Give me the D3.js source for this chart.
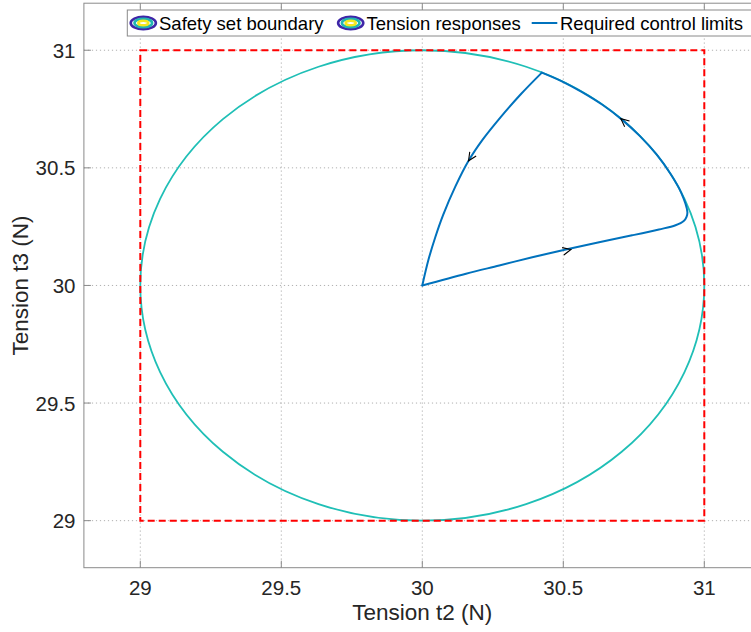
<!DOCTYPE html>
<html>
<head>
<meta charset="utf-8">
<script src="https://cdn.jsdelivr.net/npm/d3@7"></script>
<style>
  html, body { margin: 0; padding: 0; background: #fff; overflow: hidden; }
  svg { display: block; font-family: "Liberation Sans", Arial, Helvetica, sans-serif; }
</style>
</head>
<body>
<svg id="chart" width="751" height="632"></svg>
<script>
// Axis limits and ticks (N)
const t2Limits = [28.8, 31.2];
const t3Limits = [28.8, 31.2];
const t2Ticks = [29, 29.5, 30, 30.5, 31];
const t3Ticks = [29, 29.5, 30, 30.5, 31];
const tickLabels = ["29", "29.5", "30", "30.5", "31"];

// Safety set boundary: ellipse centre and semi-axes (t2, t3)
const safetyCenter = [30, 30];
const safetyRadii = [1, 1];

// Required control limits box: [t2min, t2max], [t3min, t3max]
const limitT2 = [29, 31];
const limitT3 = [29, 31];

// Tension response trajectory (outbound leg, along the boundary, then back to the set point)
const respT2 = [30.000, 30.155, 30.273, 30.390, 30.509, 30.627, 30.744, 30.839, 30.898, 30.927, 30.937, 30.940,
                30.918, 30.880, 30.830, 30.770, 30.709, 30.640, 30.565, 30.495, 30.424,
                30.350, 30.278, 30.214, 30.164, 30.117, 30.074, 30.046, 30.022, 30.000];
const respT3 = [30.000, 30.050, 30.085, 30.120, 30.153, 30.184, 30.213, 30.238, 30.256, 30.274, 30.292, 30.312,
                30.395, 30.475, 30.558, 30.637, 30.704, 30.767, 30.823, 30.868, 30.905,
                30.814, 30.716, 30.620, 30.530, 30.420, 30.300, 30.205, 30.110, 30.000];
// Index of the sharp corner where the response leaves the boundary
const cornerIndex = 20;

// Direction arrows along the trajectory: tip and a point just behind it
const arrowTipT2 = [30.527, 30.704, 30.164];
const arrowTipT3 = [30.153, 30.709, 30.530];
const arrowTailT2 = [30.467, 30.744, 30.188];
const arrowTailT3 = [30.136, 30.669, 30.575];

const legendLabels = ["Safety set boundary", "Tension responses", "Required control limits"];

const svg = d3.select("#chart");
const x = d3.scaleLinear().domain(t2Limits).range([83.9, 760.7]);
const y = d3.scaleLinear().domain(t3Limits).range([567.7, 3.2]);
const [x0, x1] = x.range();
const [y0, y1] = y.range();

const gridColor = "#b0b0b0";
const axisColor = "#8a8a8a";
const textColor = "#262626";

// Grid
const grid = svg.append("g");
grid.selectAll("line.gx").data(t2Ticks).join("line")
  .attr("x1", d => x(d)).attr("x2", d => x(d))
  .attr("y1", y0).attr("y2", y1)
  .attr("stroke", gridColor).attr("stroke-width", 1).attr("stroke-dasharray", "1.2,2.8");
grid.selectAll("line.gy").data(t3Ticks).join("line")
  .attr("x1", x0).attr("x2", x1)
  .attr("y1", d => y(d)).attr("y2", d => y(d))
  .attr("stroke", gridColor).attr("stroke-width", 1).attr("stroke-dasharray", "1.2,2.8");

// Safety set boundary
svg.append("ellipse")
  .attr("cx", x(safetyCenter[0])).attr("cy", y(safetyCenter[1]))
  .attr("rx", x(safetyCenter[0] + safetyRadii[0]) - x(safetyCenter[0]))
  .attr("ry", y(safetyCenter[1]) - y(safetyCenter[1] + safetyRadii[1]))
  .attr("fill", "none").attr("stroke", "#1fbfb6").attr("stroke-width", 1.8);

// Required control limits
svg.append("rect")
  .attr("x", x(limitT2[0])).attr("y", y(limitT3[1]))
  .attr("width", x(limitT2[1]) - x(limitT2[0]))
  .attr("height", y(limitT3[0]) - y(limitT3[1]))
  .attr("fill", "none").attr("stroke", "#ff0000").attr("stroke-width", 2)
  .attr("stroke-dasharray", "7,4");

// Tension response trajectory, split at the corner so it stays sharp
const respPts = respT2.map((v, i) => [v, respT3[i]]);
const respLine = d3.line().x(d => x(d[0])).y(d => y(d[1])).curve(d3.curveCatmullRom.alpha(0.5));
[respPts.slice(0, cornerIndex + 1), respPts.slice(cornerIndex)].forEach(seg => {
  svg.append("path")
    .datum(seg)
    .attr("d", respLine)
    .attr("fill", "none").attr("stroke", "#0072bd").attr("stroke-width", 2)
    .attr("stroke-linejoin", "round").attr("stroke-linecap", "round");
});

// Arrowheads
const wing = 9, half = 25 * Math.PI / 180;
arrowTipT2.forEach((tx, i) => {
  const px = x(tx), py = y(arrowTipT3[i]);
  const bx = x(arrowTailT2[i]), by = y(arrowTailT3[i]);
  const ang = Math.atan2(by - py, bx - px);
  const p1 = [px + wing * Math.cos(ang + half), py + wing * Math.sin(ang + half)];
  const p2 = [px + wing * Math.cos(ang - half), py + wing * Math.sin(ang - half)];
  svg.append("path")
    .attr("d", `M${p1[0]},${p1[1]}L${px},${py}L${p2[0]},${p2[1]}`)
    .attr("fill", "none").attr("stroke", "#000").attr("stroke-width", 1.1);
});

// Axes box with inward ticks on all sides
const box = svg.append("g");
box.append("rect").attr("x", x0).attr("y", y1).attr("width", x1 - x0).attr("height", y0 - y1)
  .attr("fill", "none").attr("stroke", axisColor).attr("stroke-width", 1);
const tl = 7;
t2Ticks.forEach(v => {
  box.append("line").attr("x1", x(v)).attr("x2", x(v)).attr("y1", y0).attr("y2", y0 - tl).attr("stroke", axisColor);
  box.append("line").attr("x1", x(v)).attr("x2", x(v)).attr("y1", y1).attr("y2", y1 + tl).attr("stroke", axisColor);
});
t3Ticks.forEach(v => {
  box.append("line").attr("x1", x0).attr("x2", x0 + tl).attr("y1", y(v)).attr("y2", y(v)).attr("stroke", axisColor);
  box.append("line").attr("x1", x1).attr("x2", x1 - tl).attr("y1", y(v)).attr("y2", y(v)).attr("stroke", axisColor);
});

// Tick labels
svg.append("g").selectAll("text").data(t2Ticks).join("text")
  .attr("x", d => x(d)).attr("y", 594.5)
  .attr("text-anchor", "middle").attr("font-size", 20.5).attr("fill", textColor)
  .text((d, i) => tickLabels[i]);
svg.append("g").selectAll("text").data(t3Ticks).join("text")
  .attr("x", 75.5).attr("y", d => y(d) + 7.5)
  .attr("text-anchor", "end").attr("font-size", 20.5).attr("fill", textColor)
  .text((d, i) => tickLabels[i]);

// Axis labels
svg.append("text").attr("x", (83.9 + 760.7) / 2).attr("y", 619.5)
  .attr("text-anchor", "middle").attr("font-size", 22.5).attr("fill", textColor)
  .text("Tension t2 (N)");
svg.append("text").attr("transform", `translate(27.7,${(y0 + y1) / 2}) rotate(-90)`)
  .attr("text-anchor", "middle").attr("font-size", 22.5).attr("fill", textColor)
  .text("Tension t3 (N)");

// Legend
const lg = svg.append("g");
lg.append("rect").attr("x", 127.3).attr("y", 10).attr("width", 640).attr("height", 26)
  .attr("fill", "#fff").attr("stroke", axisColor).attr("stroke-width", 1);
function contourIcon(cx, cy) {
  const rings = [[12.6, 6.2, "#3e26a8"], [8.8, 4.2, "#22b5b1"], [5.0, 2.3, "#f5e81d"]];
  rings.forEach(r => {
    lg.append("ellipse").attr("cx", cx).attr("cy", cy).attr("rx", r[0]).attr("ry", r[1])
      .attr("fill", "none").attr("stroke", r[2]).attr("stroke-width", 2.6);
  });
}
contourIcon(143.3, 23);
lg.append("text").attr("x", 159).attr("y", 29.5).attr("font-size", 18.5).attr("fill", "#000").text(legendLabels[0]);
contourIcon(350.7, 23);
lg.append("text").attr("x", 366.5).attr("y", 29.5).attr("font-size", 18.5).attr("fill", "#000").text(legendLabels[1]);
lg.append("line").attr("x1", 531.7).attr("x2", 557.3).attr("y1", 23).attr("y2", 23)
  .attr("stroke", "#0072bd").attr("stroke-width", 2);
lg.append("text").attr("x", 560).attr("y", 29.5).attr("font-size", 18.5).attr("fill", "#000").text(legendLabels[2]);
</script>
</body>
</html>
